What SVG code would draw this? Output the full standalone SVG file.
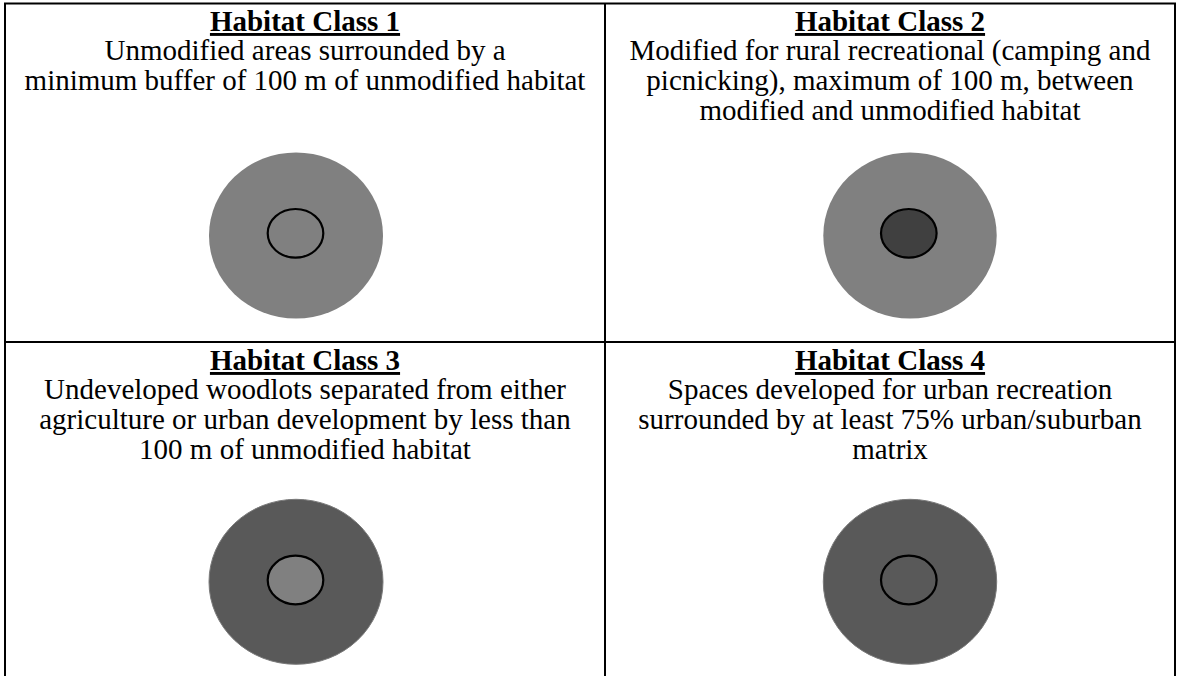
<svg xmlns="http://www.w3.org/2000/svg" width="1180" height="676" viewBox="0 0 1180 676">
<style>
text{font-family:"Liberation Serif","Times New Roman",serif;font-size:29px;fill:#000;text-anchor:middle}
.h{font-weight:bold;text-decoration:underline}
.grid{stroke:#000;stroke-width:2;fill:none}
.ring{stroke:#000;stroke-width:2.2}
</style>
<rect width="1180" height="676" fill="#fff"/>
<g id="table" class="grid">
<line x1="4" y1="3.5" x2="1176" y2="3.5"/>
<line x1="5" y1="3" x2="5" y2="676"/>
<line x1="605" y1="3" x2="605" y2="676"/>
<line x1="1175" y1="3" x2="1175" y2="676"/>
<line x1="4" y1="342" x2="1176" y2="342"/>
</g>
<g id="cell1">
<text class="h" x="305" y="31">Habitat Class 1</text>
<text x="305" y="60">Unmodified areas surrounded by a</text>
<text x="305" y="90">minimum buffer of 100 m of unmodified habitat</text>
<ellipse cx="296" cy="235.5" rx="87" ry="83" fill="#808080"/>
<ellipse class="ring" cx="295.5" cy="233.3" rx="27.8" ry="24.3" fill="#808080"/>
</g>
<g id="cell2">
<text class="h" x="890" y="31">Habitat Class 2</text>
<text x="890" y="60">Modified for rural recreational (camping and</text>
<text x="890" y="90">picnicking), maximum of 100 m, between</text>
<text x="890" y="120">modified and unmodified habitat</text>
<ellipse cx="910" cy="235.5" rx="86.7" ry="83" fill="#808080"/>
<ellipse class="ring" cx="908.8" cy="233.3" rx="27.8" ry="24.3" fill="#404040"/>
</g>
<g id="cell3">
<text class="h" x="305" y="370">Habitat Class 3</text>
<text x="305" y="399">Undeveloped woodlots separated from either</text>
<text x="305" y="429">agriculture or urban development by less than</text>
<text x="305" y="459">100 m of unmodified habitat</text>
<ellipse cx="296" cy="581.8" rx="87" ry="82.5" fill="#595959" stroke="#7a7a7a" stroke-width="1"/>
<ellipse class="ring" cx="295.5" cy="580" rx="27.8" ry="24.3" fill="#808080"/>
</g>
<g id="cell4">
<text class="h" x="890" y="370">Habitat Class 4</text>
<text x="890" y="399">Spaces developed for urban recreation</text>
<text x="890" y="429">surrounded by at least 75% urban/suburban</text>
<text x="890" y="459">matrix</text>
<ellipse cx="910" cy="581.8" rx="86.7" ry="82.5" fill="#595959" stroke="#7a7a7a" stroke-width="1"/>
<ellipse class="ring" cx="908.8" cy="580" rx="27.8" ry="24.3" fill="#595959"/>
</g>
</svg>
